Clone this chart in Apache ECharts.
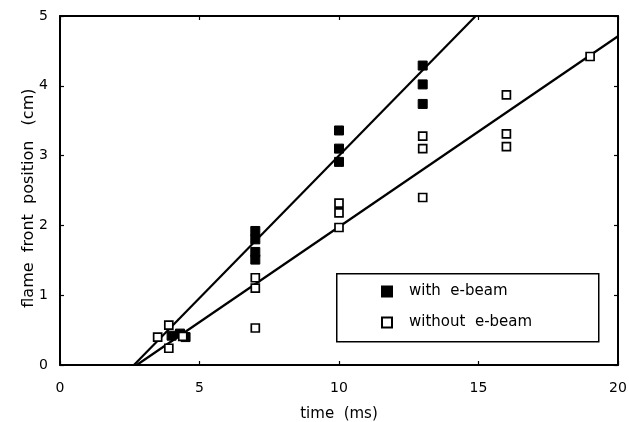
<!DOCTYPE html>
<html>
<head>
<meta charset="utf-8">
<script src="https://cdn.jsdelivr.net/npm/echarts@6/dist/echarts.min.js"></script>
<style>
  html, body { margin: 0; padding: 0; background: #fff; }
  #main { width: 629px; height: 422px; }
</style>
</head>
<body>
<div id="main"></div>
<script>
// measured points, time (ms) vs flame front position (cm)
var withBeam = [
  [4.0, 0.42], [4.3, 0.45], [4.5, 0.40],
  [7, 1.92], [7, 1.80], [7, 1.62], [7, 1.51],
  [10, 3.36], [10, 3.10], [10, 2.91],
  [13, 4.29], [13, 4.02], [13, 3.74]
];
var withoutBeam = [
  [3.5, 0.40], [3.9, 0.57], [3.9, 0.24], [4.4, 0.41],
  [7, 1.25], [7, 1.10], [7, 0.53],
  [10, 2.32], [10, 2.18], [10, 1.97],
  [13, 3.28], [13, 3.10], [13, 2.40],
  [16, 3.87], [16, 3.31], [16, 3.13],
  [19, 4.42]
];
// fitted lines
var fitWith = [[2.65, 0], [14.9, 5]];
var fitWithout = [[2.75, 0], [20, 4.71]];

var xTicks = [0, 5, 10, 15, 20];
var yTicks = [0, 1, 2, 3, 4, 5];

var myChart = echarts.init(document.getElementById('main'));

var font = '"DejaVu Sans", sans-serif';
var axisCommon = {
  axisLine: { show: true, onZero: false, lineStyle: { color: '#000', width: 2 } },
  axisTick: { show: true, inside: true, length: 4, lineStyle: { color: '#000', width: 1.2 } },
  splitLine: { show: false }
};

option = {
  animation: false,
  backgroundColor: '#fff',
  grid: { left: 60, right: 11, top: 16, bottom: 57, outerBoundsMode: 'none', containLabel: false },
  xAxis: [
    Object.assign({
      type: 'value', min: xTicks[0], max: xTicks[xTicks.length - 1], interval: 5,
      name: 'time  (ms)', nameLocation: 'middle', nameGap: 42, nameMoveOverlap: false,
      nameTextStyle: { color: '#000', fontSize: 15, fontFamily: font },
      axisLabel: { color: '#000', fontSize: 14, fontFamily: font, margin: 16 }
    }, axisCommon),
    Object.assign({
      type: 'value', position: 'top', min: 0, max: 20, interval: 5,
      axisLabel: { show: false }
    }, axisCommon)
  ],
  yAxis: [
    Object.assign({
      type: 'value', min: yTicks[0], max: yTicks[yTicks.length - 1], interval: 1,
      name: 'flame  front  position   (cm)   ', nameLocation: 'middle', nameGap: 23, nameMoveOverlap: false,
      nameTextStyle: { color: '#000', fontSize: 16, fontFamily: font },
      axisLabel: { color: '#000', fontSize: 14, fontFamily: font, margin: 12 }
    }, axisCommon),
    Object.assign({
      type: 'value', position: 'right', min: 0, max: 5, interval: 1,
      axisLabel: { show: false }
    }, axisCommon)
  ],
  graphic: [
    {
      type: 'rect', left: 336, top: 273,
      shape: { width: 262, height: 68 },
      style: { fill: '#fff', stroke: '#000', lineWidth: 1.5 },
      z: 10
    }
  ],
  legend: {
    orient: 'vertical', left: 381, top: 284, padding: 0,
    itemWidth: 10, itemHeight: 10, itemGap: 16,
    z: 20,
    textStyle: { color: '#000', fontSize: 15, fontFamily: font, padding: [0, 0, 0, 12] },
    formatter: function (name) { return name.replace(' ', '  '); },
    data: [
      { name: 'with e-beam', icon: 'rect' },
      { name: 'without e-beam', icon: 'rect' }
    ]
  },
  series: [
    {
      name: 'fit with', type: 'line', data: fitWith, symbol: 'none',
      lineStyle: { color: '#000', width: 2.2 }, silent: true
    },
    {
      name: 'fit without', type: 'line', data: fitWithout, symbol: 'none',
      lineStyle: { color: '#000', width: 2.2 }, silent: true
    },
    {
      name: 'with e-beam', type: 'scatter', data: withBeam,
      symbol: 'rect', symbolSize: 9,
      itemStyle: { color: '#000', borderColor: '#000', borderWidth: 1, opacity: 1 },
      z: 5
    },
    {
      name: 'without e-beam', type: 'scatter', data: withoutBeam,
      symbol: 'rect', symbolSize: 8,
      itemStyle: { color: '#fff', borderColor: '#000', borderWidth: 1.7, opacity: 1 },
      z: 5
    }
  ]
};
myChart.setOption(option);
</script>
</body>
</html>
